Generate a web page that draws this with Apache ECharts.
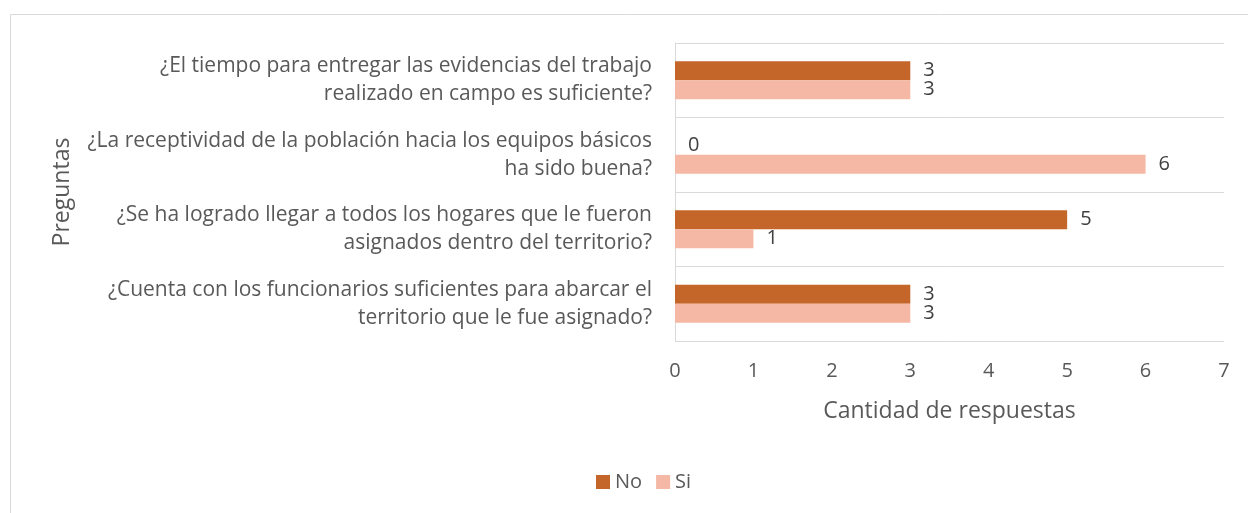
<!DOCTYPE html>
<html>
<head>
<meta charset="utf-8">
<script src="https://cdn.jsdelivr.net/npm/echarts@6/dist/echarts.min.js"></script>
<style>
  html, body { margin: 0; padding: 0; background: #ffffff; }
  #main { width: 1248px; height: 513px; }
</style>
</head>
<body>
<div id="main"></div>
<script>
// categories bottom -> top (category axis starts at the bottom)
const preguntas = [
  '¿Cuenta con los funcionarios suficientes para abarcar el\nterritorio que le fue asignado?',
  '¿Se ha logrado llegar a todos los hogares que le fueron\nasignados dentro del territorio?',
  '¿La receptividad de la población hacia los equipos básicos\nha sido buena?',
  '¿El tiempo para entregar las evidencias del trabajo\nrealizado en campo es suficiente?'
];
const noData = [3, 5, 0, 3];
const siData = [3, 1, 6, 3];
const xTicks = [0, 1, 2, 3, 4, 5, 6, 7];

const fontFam = 'Open Sans';
const chart = echarts.init(document.getElementById('main'));

var option = {
  backgroundColor: '#ffffff',
  animation: false,
  textStyle: { fontFamily: fontFam },
  graphic: [
    {
      type: 'rect',
      shape: { x: 10.5, y: 14.5, width: 1260, height: 520 },
      style: { fill: 'none', stroke: '#d9d9d9', lineWidth: 1 }
    }
  ],
  legend: {
    data: ['No', 'Si'],
    left: 591,
    top: 467,
    itemWidth: 14,
    itemHeight: 14,
    itemGap: 14,
    icon: 'rect',
    textStyle: { color: '#595959', fontSize: 20, fontFamily: fontFam }
  },
  grid: {
    left: 675,
    right: 24,
    top: 43,
    bottom: 172
  },
  xAxis: {
    type: 'value',
    min: xTicks[0],
    max: xTicks[xTicks.length - 1],
    interval: 1,
    name: 'Cantidad de respuestas',
    nameLocation: 'middle',
    nameGap: 59,
    nameTextStyle: { color: '#595959', fontSize: 23, fontFamily: fontFam },
    axisLine: { show: false },
    axisTick: { show: false },
    splitLine: { show: false },
    axisLabel: { color: '#595959', fontSize: 20, margin: 20, fontFamily: fontFam }
  },
  yAxis: {
    type: 'category',
    data: preguntas,
    name: 'Preguntas',
    nameLocation: 'middle',
    nameGap: 601,
    nameRotate: 90,
    nameTextStyle: { color: '#595959', fontSize: 23, fontFamily: fontFam },
    axisLine: { show: true, lineStyle: { color: '#d9d9d9', width: 1 } },
    axisTick: { show: false },
    splitLine: { show: true, lineStyle: { color: '#d9d9d9', width: 1 } },
    axisLabel: {
      color: '#595959',
      fontSize: 21,
      lineHeight: 28,
      margin: 23,
      padding: [6, 0, 0, 0],
      align: 'right',
      fontFamily: fontFam
    }
  },
  series: [
    {
      name: 'No',
      type: 'bar',
      data: noData,
      barWidth: 19,
      barGap: '0%',
      itemStyle: { color: '#c4652a' },
      label: {
        show: true,
        position: 'right',
        distance: 13,
        color: '#404040',
        fontSize: 20,
        fontFamily: fontFam
      }
    },
    {
      name: 'Si',
      type: 'bar',
      data: siData,
      barWidth: 19,
      barGap: '0%',
      itemStyle: { color: '#f4b8a4' },
      label: {
        show: true,
        position: 'right',
        distance: 13,
        color: '#404040',
        fontSize: 20,
        fontFamily: fontFam
      }
    }
  ]
};
chart.setOption(option);
</script>
</body>
</html>
